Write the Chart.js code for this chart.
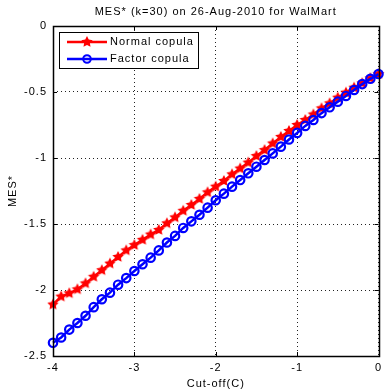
<!DOCTYPE html>
<html>
<head>
<meta charset="utf-8">
<script src="https://cdn.jsdelivr.net/npm/chart.js@4"></script>
<style>
  html, body { margin: 0; padding: 0; background: #fff; }
  #wrap { width: 387px; height: 391px; }
</style>
</head>
<body>
<div id="wrap"><canvas id="report" width="387" height="391"></canvas></div>
<script>
// valores
const chartTitle = 'MES* (k=30) on 26-Aug-2010 for WalMart';
const xTitle = 'Cut-off(C)';
const yTitle = 'MES*';
const seriesNames = ['Normal copula', 'Factor copula'];

const cutoff = [-4.0, -3.9, -3.8, -3.7, -3.6, -3.5, -3.4, -3.3, -3.2, -3.1,
                -3.0, -2.9, -2.8, -2.7, -2.6, -2.5, -2.4, -2.3, -2.2, -2.1,
                -2.0, -1.9, -1.8, -1.7, -1.6, -1.5, -1.4, -1.3, -1.2, -1.1,
                -1.0, -0.9, -0.8, -0.7, -0.6, -0.5, -0.4, -0.3, -0.2, -0.1, 0.0];

const normalMES = [-2.11, -2.05, -2.025, -1.995, -1.95, -1.90, -1.85, -1.80, -1.75, -1.70,
                   -1.66, -1.62, -1.58, -1.545, -1.495, -1.45, -1.40, -1.356, -1.31, -1.26,
                   -1.217, -1.174, -1.124, -1.08, -1.035, -0.985, -0.94, -0.89, -0.84, -0.795,
                   -0.75, -0.712, -0.67, -0.624, -0.586, -0.543, -0.505, -0.467, -0.434, -0.396, -0.364];

const factorMES = [-2.40, -2.36, -2.30, -2.25, -2.195, -2.13, -2.07, -2.02, -1.96, -1.91,
                   -1.856, -1.805, -1.755, -1.70, -1.64, -1.59, -1.53, -1.48, -1.43, -1.376,
                   -1.32, -1.27, -1.217, -1.167, -1.116, -1.066, -1.015, -0.965, -0.914, -0.86,
                   -0.81, -0.757, -0.712, -0.66, -0.616, -0.573, -0.53, -0.485, -0.44, -0.40, -0.364];

const FONT = '"Liberation Sans", Arial, sans-serif';

// estrela cheia (pentagrama) para os marcadores
function makeStar(color, r) {
    const c = document.createElement('canvas');
    const s = Math.ceil(r * 2) + 2;
    c.width = c.height = s;
    const g = c.getContext('2d');
    g.fillStyle = color;
    g.beginPath();
    for (let i = 0; i < 10; i++) {
        const rad = i % 2 ? r * 0.5 : r;
        const a = -Math.PI / 2 + i * Math.PI / 5;
        g.lineTo(s / 2 + rad * Math.cos(a), s / 2 + rad * Math.sin(a));
    }
    g.closePath();
    g.fill();
    return c;
}
const redStar = makeStar('#ff0000', 6);

const toXY = (ys) => ys.map((v, i) => ({ x: cutoff[i], y: v }));
const fmt = (v) => String(Math.round(v * 10) / 10);

// caixa, marcas internas, titulo e legenda estilo MATLAB
const matlabBox = {
    id: 'matlabBox',
    beforeDraw(chart) {
        chart.ctx.letterSpacing = '1px';
    },
    afterDraw(chart) {
        const ctx = chart.ctx;
        const a = chart.chartArea;
        const xs = chart.scales.x, ys = chart.scales.y;
        ctx.save();
        ctx.strokeStyle = '#000';
        ctx.lineWidth = 1;
        ctx.beginPath();
        xs.ticks.forEach(t => {
            const px = Math.round(xs.getPixelForValue(t.value)) + 0.5;
            ctx.moveTo(px, a.bottom); ctx.lineTo(px, a.bottom - 4);
            ctx.moveTo(px, a.top); ctx.lineTo(px, a.top + 4);
        });
        ys.ticks.forEach(t => {
            const py = Math.round(ys.getPixelForValue(t.value)) + 0.5;
            ctx.moveTo(a.left, py); ctx.lineTo(a.left + 4, py);
            ctx.moveTo(a.right, py); ctx.lineTo(a.right - 4, py);
        });
        ctx.stroke();
        ctx.lineWidth = 1.5;
        ctx.strokeRect(Math.round(a.left) + 0.5, Math.round(a.top) + 0.5,
                       Math.round(a.right - a.left), Math.round(a.bottom - a.top));

        ctx.letterSpacing = '1px';
        ctx.fillStyle = '#000';
        ctx.font = '11px ' + FONT;
        ctx.textAlign = 'center';
        ctx.textBaseline = 'middle';
        ctx.fillText(chartTitle, (a.left + a.right) / 2, 12);

        // legenda
        const lx = a.left + 6, ly = a.top + 6, lw = 139, lh = 36;
        ctx.fillStyle = '#fff';
        ctx.fillRect(lx, ly, lw, lh);
        ctx.strokeStyle = '#000';
        ctx.lineWidth = 1;
        ctx.strokeRect(lx + 0.5, ly + 0.5, lw, lh);
        const rows = [
            { color: '#ff0000', star: true, y: ly + 10 },
            { color: '#0000ff', star: false, y: ly + 27 }
        ];
        rows.forEach((r, i) => {
            ctx.strokeStyle = r.color;
            ctx.lineWidth = 2.5;
            ctx.beginPath();
            ctx.moveTo(lx + 8, r.y); ctx.lineTo(lx + 48, r.y);
            ctx.stroke();
            if (r.star) {
                ctx.drawImage(redStar, lx + 28 - redStar.width / 2, r.y - redStar.height / 2);
            } else {
                ctx.lineWidth = 2;
                ctx.beginPath();
                ctx.arc(lx + 28, r.y, 3.8, 0, Math.PI * 2);
                ctx.stroke();
            }
            ctx.fillStyle = '#000';
            ctx.textAlign = 'left';
            ctx.fillText(seriesNames[i], lx + 51, r.y);
        });
        ctx.restore();
    }
};

const ctx = document.getElementById('report').getContext('2d');
const report_container = new Chart(ctx, {
    type: 'line',
    data: {
        datasets: [{
            label: seriesNames[0],
            data: toXY(normalMES),
            borderColor: '#ff0000',
            borderWidth: 2.5,
            pointStyle: redStar,
            pointRadius: 6,
            order: 1,
            clip: false
        }, {
            label: seriesNames[1],
            data: toXY(factorMES),
            borderColor: '#0000ff',
            borderWidth: 2.5,
            pointStyle: 'circle',
            pointRadius: 4.2,
            pointBorderWidth: 2.2,
            pointBackgroundColor: 'rgba(0,0,0,0)',
            pointBorderColor: '#0000ff',
            order: 0,
            clip: false
        }]
    },
    options: {
        responsive: false,
        animation: false,
        layout: { padding: { left: 0, right: 5, top: 26, bottom: 0 } },
        plugins: {
            legend: { display: false },
            title: { display: false },
            tooltip: { enabled: false }
        },
        scales: {
            x: {
                type: 'linear',
                min: -4, max: 0,
                afterFit: (s) => { s.height = 35; },
                ticks: { stepSize: 1, padding: 5, color: '#000', callback: fmt, font: { family: FONT, size: 11 } },
                grid: { color: '#222', lineWidth: 1, drawTicks: false },
                border: { display: false, dash: [1, 3] },
                title: { display: true, text: xTitle, color: '#000', padding: { top: 0, bottom: 0 }, font: { family: FONT, size: 11 } }
            },
            y: {
                type: 'linear',
                min: -2.5, max: 0,
                afterFit: (s) => { s.width = 53; },
                ticks: { stepSize: 0.5, padding: 6, color: '#000', callback: fmt, font: { family: FONT, size: 11 } },
                grid: { color: '#222', lineWidth: 1, drawTicks: false },
                border: { display: false, dash: [1, 3] },
                title: { display: true, text: yTitle, color: '#000', padding: { top: 6, bottom: 0 }, font: { family: FONT, size: 11 } }
            }
        }
    },
    plugins: [matlabBox]
});
</script>
</body>
</html>
